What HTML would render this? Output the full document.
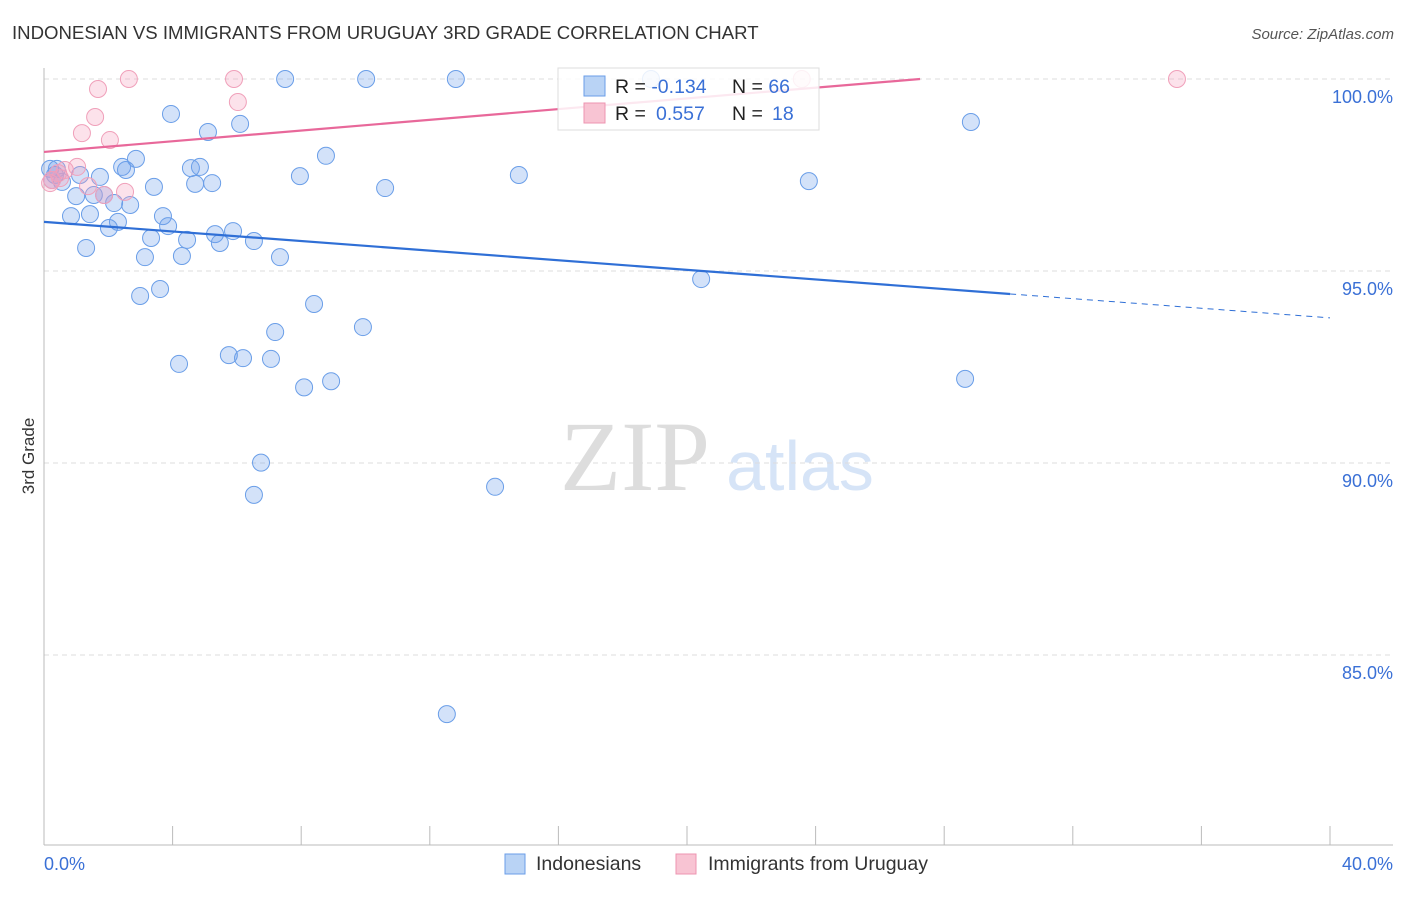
<!DOCTYPE html>
<html><head><meta charset="utf-8"><style>
body{margin:0;background:#fff;font-family:"Liberation Sans",sans-serif}
</style></head><body>
<svg width="1406" height="892" xmlns="http://www.w3.org/2000/svg">
<text x="12" y="39" font-size="18.6" fill="#333">INDONESIAN VS IMMIGRANTS FROM URUGUAY 3RD GRADE CORRELATION CHART</text>
<text x="1394" y="39" font-size="15" fill="#555" text-anchor="end" font-style="italic">Source: ZipAtlas.com</text>
<text x="34" y="456" font-size="17" fill="#333" transform="rotate(-90 34 456)" text-anchor="middle">3rd Grade</text>
<text x="635" y="490" font-size="100" fill="#ddd" font-family="Liberation Serif" text-anchor="middle">ZIP</text>
<text x="800" y="490" font-size="70" fill="#d6e4f7" text-anchor="middle">atlas</text>
<g id="grid"></g>
<g id="axes"></g>
<g id="pts"></g>
<g id="lines"></g>
<g>
<rect x="558" y="68" width="261" height="62" fill="#fff" fill-opacity="0.85" stroke="#ddd"/>
<rect x="584" y="76" width="21" height="20" fill="#b9d3f5" stroke="#6a9ee8"/>
<rect x="584" y="103" width="21" height="20" fill="#f8c4d3" stroke="#ee94b0"/>
<text x="615" y="93" font-size="19.5" fill="#222">R = <tspan fill="#3a70d6">-0.134</tspan><tspan x="732">N = </tspan><tspan fill="#3a70d6">66</tspan></text>
<text x="615" y="120" font-size="19.5" fill="#222">R = <tspan x="656" fill="#3a70d6">0.557</tspan><tspan x="732">N = </tspan><tspan x="772" fill="#3a70d6">18</tspan></text>
</g>
<g>
<rect x="505" y="854" width="20" height="20" fill="#b9d3f5" stroke="#6a9ee8"/>
<text x="536" y="870" font-size="19.5" fill="#333">Indonesians</text>
<rect x="676" y="854" width="20" height="20" fill="#f8c4d3" stroke="#ee94b0"/>
<text x="708" y="870" font-size="19.5" fill="#333">Immigrants from Uruguay</text>
</g>
</svg>
<script>
const yTicks=[100,95,90,85];
const yTickLabels=["100.0%","95.0%","90.0%","85.0%"];
const xTickLabels=["0.0%","40.0%"];
const blueX=[0.19,0.40,0.25,0.56,0.84,1.00,1.12,1.31,1.43,1.55,1.74,1.87,2.02,2.18,2.30,2.43,2.55,2.68,2.86,2.99,3.14,3.33,3.42,3.61,3.70,3.86,3.95,4.20,4.29,4.45,4.57,4.70,4.85,5.10,5.23,5.32,5.47,5.75,5.88,6.10,6.19,6.53,6.53,6.75,7.06,7.19,7.34,7.50,7.96,8.09,8.40,8.77,8.93,9.92,10.02,10.61,12.53,12.81,14.03,14.77,18.88,20.44,23.79,28.65,28.83,0.34];
const blueY=[97.66,97.66,97.37,97.32,96.43,96.95,97.50,95.60,96.48,96.98,97.45,96.98,96.12,96.77,96.28,97.71,97.63,96.72,97.92,94.35,95.36,95.86,97.19,94.53,96.43,96.17,99.09,92.58,95.39,95.81,97.68,97.27,97.71,98.62,97.29,95.96,95.73,92.81,96.04,98.83,92.73,95.78,89.17,90.01,92.71,93.41,95.36,100.0,97.47,91.97,94.14,98.00,92.13,93.54,100.0,97.16,83.46,100.0,89.38,97.50,100.0,94.79,97.34,92.19,98.88,97.50];
const pinkX=[0.19,0.50,0.65,1.03,1.18,1.37,1.59,1.68,1.87,2.05,2.52,2.64,5.91,6.03,23.57,35.24,0.25,0.44];
const pinkY=[97.29,97.42,97.63,97.71,98.59,97.21,99.01,99.74,96.98,98.41,97.06,100.0,100.0,99.40,100.0,100.0,97.37,97.55];
const blueFit=[96.28,93.78];
const pinkFit=[98.10,100.0];
const pinkEndX=27.25, blueSolidEnd=30.05;
const NS="http://www.w3.org/2000/svg";
const X=v=>44+v/40*1286, Y=v=>79+(100-v)*38.4;
function mk(t,a,p){const e=document.createElementNS(NS,t);for(const k in a)e.setAttribute(k,a[k]);p.appendChild(e);return e;}
const grid=document.getElementById('grid'),axes=document.getElementById('axes'),pts=document.getElementById('pts'),lines=document.getElementById('lines');
yTicks.forEach((t,i)=>{
 const l=mk('line',{x1:44,x2:1393,y1:Y(t),y2:Y(t),stroke:'#ddd','stroke-dasharray':'5,4'},grid);
 
 
 const tx=mk('text',{x:1393,y:Y(t)+24,'font-size':18,fill:'#3a70d6','text-anchor':'end'},axes);
 tx.textContent=yTickLabels[i];
 
 
});
mk('line',{x1:44,x2:44,y1:68,y2:845,stroke:'#bbb'},axes);
mk('line',{x1:44,x2:1393,y1:845,y2:845,stroke:'#bbb'},axes);
for(let i=1;i<=10;i++){const tk=mk('line',{x1:X(i*4),x2:X(i*4),y1:826,y2:845,stroke:'#bbb'},axes);
 
 }
[[44,'start'],[1393,'end']].forEach((p,i)=>{const t=mk('text',{x:p[0],y:870,'font-size':18,fill:'#3a70d6','text-anchor':p[1]},axes);t.textContent=xTickLabels[i];
 
 });
blueX.forEach((x,i)=>{const c=mk('circle',{cx:X(x),cy:Y(blueY[i]),r:8.5,fill:'rgba(110,160,235,0.3)',stroke:'#6a9ee8','stroke-width':1},pts);
 
 });
pinkX.forEach((x,i)=>{const c=mk('circle',{cx:X(x),cy:Y(pinkY[i]),r:8.5,fill:'rgba(245,160,190,0.3)',stroke:'#f0a0ba','stroke-width':1},pts);
 
 });
const by=x=>blueFit[0]+(blueFit[1]-blueFit[0])*x/40;
const bl=mk('line',{x1:X(0),y1:Y(by(0)),x2:X(blueSolidEnd),y2:Y(by(blueSolidEnd)),stroke:'#2f6fd6','stroke-width':2.2},lines);


const bd=mk('line',{x1:X(blueSolidEnd),y1:Y(by(blueSolidEnd)),x2:X(40),y2:Y(by(40)),stroke:'#2f6fd6','stroke-width':1,'stroke-dasharray':'6,5'},lines);


const pl=mk('line',{x1:X(0),y1:Y(pinkFit[0]),x2:X(pinkEndX),y2:Y(pinkFit[1]),stroke:'#e8689a','stroke-width':2.2},lines);


</script>
</body></html>
